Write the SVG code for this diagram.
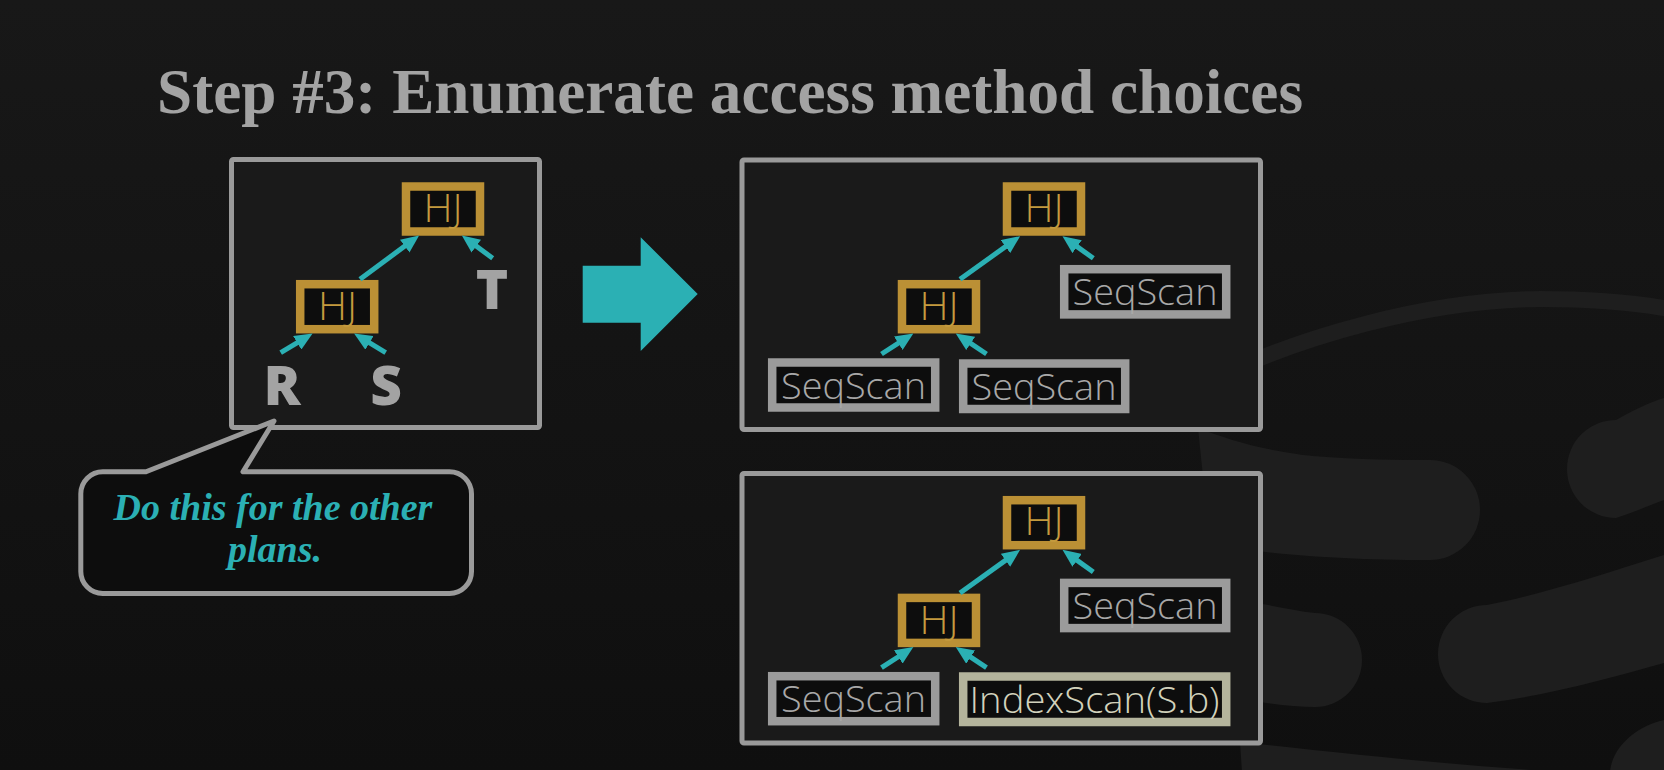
<svg xmlns="http://www.w3.org/2000/svg" width="1664" height="770" viewBox="0 0 1664 770">
<defs>
<linearGradient id="bg" x1="0" y1="0" x2="0" y2="1">
<stop offset="0" stop-color="#181818"/>
<stop offset="1" stop-color="#0f0f0f"/>
</linearGradient>
<marker id="ah" markerUnits="userSpaceOnUse" markerWidth="18" markerHeight="16" viewBox="0 0 18 16" refX="9" refY="8" orient="auto">
<path d="M0,0 L18,8 L0,16 Z" fill="#2bb0b4"/>
</marker>
<style>
.frame{fill:#1a1a1a;stroke:#9a9a9a;stroke-width:5}
.hj rect{fill:#0d0d0d;stroke:#bb9035;stroke-width:8.5}
.hj text{fill:#c49a3e;font-family:"Open Sans","Liberation Sans",sans-serif;font-weight:300;font-size:38px;text-anchor:middle}
.scan rect{fill:#0d0d0d;stroke:#9b9b9b;stroke-width:8.5}
.scan text{fill:#a8a8a8;font-family:"Open Sans","Liberation Sans",sans-serif;font-weight:300;font-size:37px;text-anchor:middle}
.iscan rect{fill:#0d0d0d;stroke:#b4b49c;stroke-width:8.5}
.iscan text{fill:#d2d2bc;font-family:"Open Sans","Liberation Sans",sans-serif;font-weight:300;font-size:37px;text-anchor:middle}
.edge{stroke:#2bb0b4;stroke-width:5;fill:none;marker-end:url(#ah)}
.rel{fill:#a3a3a3;font-family:"Open Sans","Liberation Sans",sans-serif;font-weight:800;font-size:55px;text-anchor:middle}
.logo{fill:#1e1e1e}
</style>
</defs>
<rect width="1664" height="770" fill="url(#bg)"/>
<g id="logo">
<path d="M1200,385 C1300,335 1430,300 1540,299 C1600,299 1640,304 1664,308" fill="none" stroke="#1e1e1e" stroke-width="16" stroke-linecap="round"/>
<path class="logo" d="M1198,428 C1230,440 1260,450 1313,456 C1360,460 1400,460 1430,460 A50,50 0 0 1 1430,560 C1340,560 1280,555 1210,545 Z"/>
<path class="logo" d="M1664,398 C1650,402 1630,412 1616,420 A49,49 0 0 0 1616,518 C1635,512 1650,505 1664,500 Z"/>
<path class="logo" d="M1664,555 C1600,575 1540,595 1487,605 A49,49 0 0 0 1487,703 C1550,695 1610,678 1664,663 Z"/>
<path class="logo" d="M1230,598 C1260,603 1290,610 1315,613 A47,47 0 0 1 1315,707 C1290,707 1260,702 1230,698 Z"/>
<path class="logo" d="M1240,742 C1330,752 1440,764 1560,772 L1242,772 Z"/>
<path class="logo" d="M1664,720 C1640,725 1612,745 1610,772 L1664,772 Z"/>
</g>
<g id="title">
<text x="157" y="113" fill="#a3a3a3" font-family="'Liberation Serif','Times New Roman',serif" font-weight="bold" font-size="63" textLength="1146" lengthAdjust="spacingAndGlyphs">Step #3: Enumerate access method choices</text>
</g>
<g id="plan-original">
<rect class="frame" x="231.5" y="159.5" width="308" height="268" rx="2"/>
</g>
<g id="callout">
<path d="M146,471.8 L274,421 L243,471.8 L449.5,471.8 A22,22 0 0 1 471.5,493.8 L471.5,571.5 A22,22 0 0 1 449.5,593.5 L102.8,593.5 A22,22 0 0 1 80.8,571.5 L80.8,493.8 A22,22 0 0 1 102.8,471.8 Z" fill="#0d0d0d" stroke="#9a9a9a" stroke-width="5" stroke-linejoin="round"/>
<text x="273" y="520" fill="#2bb0b4" font-family="'Liberation Serif','Times New Roman',serif" font-weight="bold" font-style="italic" font-size="38" text-anchor="middle">Do this for the other</text>
<text x="275" y="561.7" fill="#2bb0b4" font-family="'Liberation Serif','Times New Roman',serif" font-weight="bold" font-style="italic" font-size="38" text-anchor="middle">plans.</text>
</g>
<g id="node-hj-top-a" class="hj"><rect x="406" y="186.5" width="74" height="45"/><text x="443" y="221.7" textLength="39" lengthAdjust="spacingAndGlyphs">HJ</text></g>
<g id="node-hj-low-a" class="hj"><rect x="300.2" y="284.2" width="74" height="45"/><text x="337.5" y="320" textLength="39" lengthAdjust="spacingAndGlyphs">HJ</text></g>
<g id="node-R"><text class="rel" x="282" y="405">R</text></g>
<g id="node-S"><text class="rel" x="386" y="405">S</text></g>
<g id="node-T"><text class="rel" x="492" y="309.3">T</text></g>
<g id="big-arrow">
<polygon points="582.7,265.7 640.7,265.7 640.7,237.3 697.7,294 640.7,351 640.7,322.7 582.7,322.7" fill="#2bb0b4"/>
</g>
<g id="plan-b">
<rect class="frame" x="742" y="160" width="518.5" height="269.5" rx="2"/>
</g>
<g id="node-hj-top-b" class="hj"><rect x="1007" y="186.5" width="74" height="45"/><text x="1044" y="221.7" textLength="39" lengthAdjust="spacingAndGlyphs">HJ</text></g>
<g id="node-hj-low-b" class="hj"><rect x="902" y="284.2" width="74" height="45"/><text x="939" y="320" textLength="39" lengthAdjust="spacingAndGlyphs">HJ</text></g>
<g id="node-seq-t-b" class="scan"><rect x="1064.2" y="269.2" width="162" height="45.2"/><text x="1145" y="305" textLength="145" lengthAdjust="spacingAndGlyphs">SeqScan</text></g>
<g id="node-seq-r-b" class="scan"><rect x="772.2" y="362.5" width="163" height="45"/><text x="853.5" y="398.5" textLength="145" lengthAdjust="spacingAndGlyphs">SeqScan</text></g>
<g id="node-seq-s-b" class="scan"><rect x="963.2" y="363.5" width="162" height="45.5"/><text x="1044" y="399.5" textLength="145" lengthAdjust="spacingAndGlyphs">SeqScan</text></g>
<g id="plan-c">
<rect class="frame" x="742" y="473.5" width="518.5" height="269.5" rx="2"/>
</g>
<g id="node-hj-top-c" class="hj"><rect x="1007" y="500.2" width="74" height="45"/><text x="1044" y="535.4" textLength="39" lengthAdjust="spacingAndGlyphs">HJ</text></g>
<g id="node-hj-low-c" class="hj"><rect x="902" y="597.9" width="74" height="45"/><text x="939" y="633.7" textLength="39" lengthAdjust="spacingAndGlyphs">HJ</text></g>
<g id="node-seq-t-c" class="scan"><rect x="1064.2" y="582.9" width="162" height="45.2"/><text x="1145" y="618.7" textLength="145" lengthAdjust="spacingAndGlyphs">SeqScan</text></g>
<g id="node-seq-r-c" class="scan"><rect x="772.2" y="676.2" width="163" height="45"/><text x="853.5" y="712.2" textLength="145" lengthAdjust="spacingAndGlyphs">SeqScan</text></g>
<g id="node-idx-s-c" class="iscan"><rect x="963.2" y="676.5" width="263" height="45.5"/><text x="1094.5" y="712.5" textLength="250" lengthAdjust="spacingAndGlyphs">IndexScan(S.b)</text></g>
<g id="connectors">
<line class="edge" x1="360" y1="279.3" x2="411.9" y2="240.8"/>
<line class="edge" x1="492.7" y1="258.3" x2="469.1" y2="240.8"/>
<line class="edge" x1="280.7" y1="352.7" x2="304.9" y2="338.1"/>
<line class="edge" x1="385.7" y1="352.7" x2="361.8" y2="338.2"/>
<line class="edge" x1="960" y1="279.3" x2="1012.8" y2="241.4"/>
<line class="edge" x1="1093.3" y1="258.3" x2="1069.8" y2="241.4"/>
<line class="edge" x1="881.5" y1="354" x2="905.8" y2="338.3"/>
<line class="edge" x1="986.5" y1="354" x2="963.2" y2="338.4"/>
<line class="edge" x1="960" y1="593" x2="1012.8" y2="555.1"/>
<line class="edge" x1="1093.3" y1="572" x2="1069.8" y2="555.1"/>
<line class="edge" x1="881.5" y1="667.7" x2="905.8" y2="652"/>
<line class="edge" x1="986.5" y1="667.7" x2="963.2" y2="652.1"/>
</g>
</svg>
